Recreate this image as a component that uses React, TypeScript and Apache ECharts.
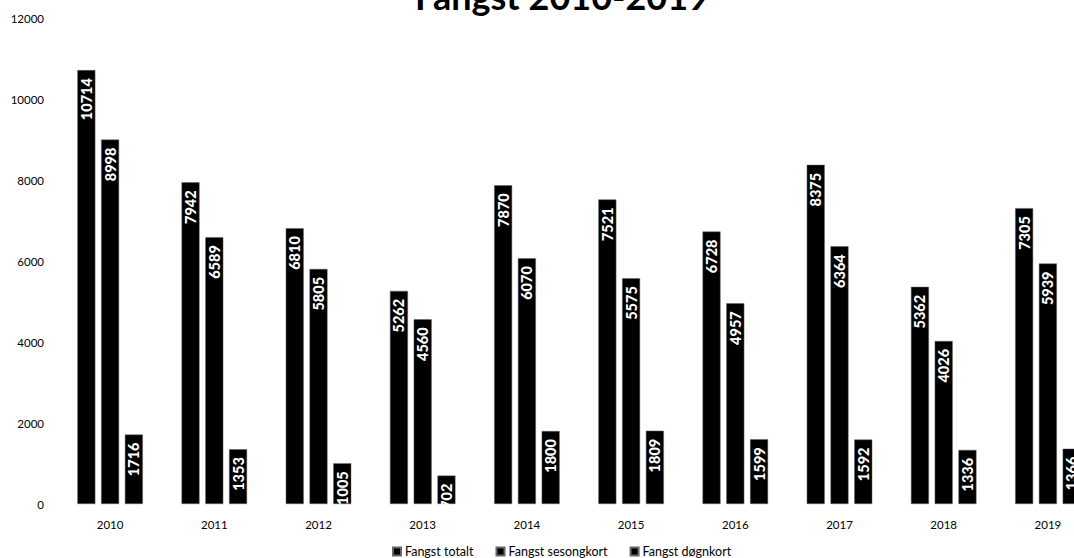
import React, { useEffect, useRef } from "react";
import * as echarts from "echarts";

const categories = ["2010", "2011", "2012", "2013", "2014", "2015", "2016", "2017", "2018", "2019"];
const totalt = [10714, 7942, 6810, 5262, 7870, 7521, 6728, 8375, 5362, 7305];
const sesongkort = [8998, 6589, 5805, 4560, 6070, 5575, 4957, 6364, 4026, 5939];
const dognkort = [1716, 1353, 1005, 702, 1800, 1809, 1599, 1592, 1336, 1366];
const seriesNames = ["Fangst totalt", "Fangst sesongkort", "Fangst døgnkort"];
const yTicks = { min: 0, max: 12000, interval: 2000 };

export default function App() {
  const ref = useRef<HTMLDivElement>(null);
  useEffect(() => {
    const chart = echarts.init(ref.current!, null, { renderer: "svg" });
    const label = {
      show: true,
      position: "insideTop",
      rotate: 90,
      align: "right",
      verticalAlign: "middle",
      distance: 8,
      color: "#fff",
      fontFamily: "Lato",
      fontWeight: 900,
      fontSize: 14.5,
    };
    const mk = (name: string, data: number[]) => ({
      name,
      type: "bar",
      data,
      barWidth: 18,
      barGap: "32%",
      itemStyle: { color: "#000", borderColor: "#666", borderWidth: 0.5 },
      label,
    });
    chart.setOption({
      animation: false,
      textStyle: { fontFamily: "Lato" },
      title: {
        text: "Fangst 2010-2019",
        left: 557,
        textAlign: "center",
        top: -27,
        textStyle: { fontFamily: "Lato", fontWeight: "bold", fontSize: 36, color: "#000" },
      },
      legend: {
        data: seriesNames,
        left: 387,
        top: 540,
        itemWidth: 8,
        itemHeight: 8,
        itemGap: 22,
        icon: "rect",
        textStyle: { fontFamily: "Lato", fontSize: 12.5, color: "#000", padding: [0, 0, 0, -1] },
      },
      grid: { left: 58, right: 0, top: 18, bottom: 54, containLabel: false },
      xAxis: {
        type: "category",
        data: categories,
        axisLine: { show: false },
        axisTick: { show: false },
        axisLabel: { color: "#000", fontFamily: "Lato", fontSize: 11.5, margin: 14 },
      },
      yAxis: {
        type: "value",
        min: yTicks.min,
        max: yTicks.max,
        interval: yTicks.interval,
        splitLine: { show: false },
        axisLine: { show: false },
        axisTick: { show: false },
        axisLabel: {
          color: "#000",
          fontFamily: "Lato",
          fontSize: 11.5,
          margin: 14,
          formatter: (v: number) => String(v),
        },
      },
      series: [mk(seriesNames[0], totalt), mk(seriesNames[1], sesongkort), mk(seriesNames[2], dognkort)],
    });
    return () => chart.dispose();
  }, []);
  return (
    <div style={{ width: 1074, height: 558, position: "absolute", left: 0, top: 0, overflow: "hidden", background: "#fff" }}>
      <div ref={ref} style={{ width: 1100, height: 558, position: "absolute", left: 0, top: 0 }} />
    </div>
  );
}
